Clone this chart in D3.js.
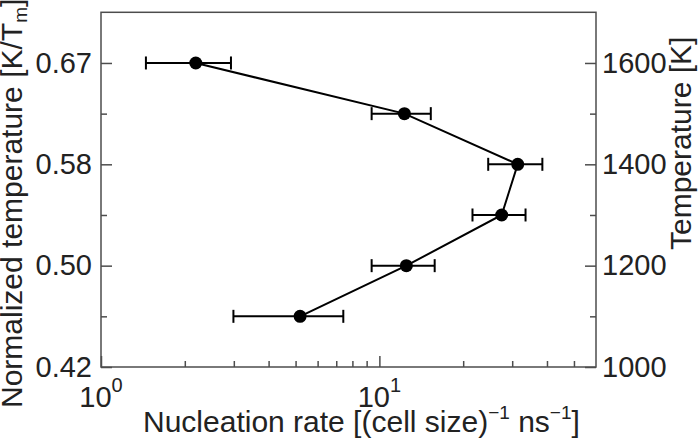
<!DOCTYPE html>
<html><head><meta charset="utf-8">
<script src="https://cdn.jsdelivr.net/npm/d3@7"></script>
<style>body{margin:0;background:#fff}svg{display:block}text{font-family:"Liberation Sans",Arial,sans-serif}</style>
</head><body><svg id="c" width="700" height="442"></svg>
<script>
const temperatures = [1600, 1500, 1400, 1300, 1200, 1100];
const rates      = [2.19, 12.3, 31.4, 27.5, 12.5, 5.19];
const rateLow    = [1.45, 9.38, 24.6, 21.6, 9.38, 2.99];
const rateHigh   = [2.93, 15.3, 38.5, 33.5, 15.8, 7.42];
const tempTicks  = [1000, 1200, 1400, 1600];
const tempMinor  = [1100, 1300, 1500];
const Tm = 2400;
const xMajor = [1, 10];
const xMinor = [2,3,4,5,6,7,8,9,20,30,40,50];

const svg = d3.select("#c");
const L=101, R=596, T=12.3, B=367;
const x = d3.scaleLog().domain([1,60]).range([L,R]);
const yT = d3.scaleLinear().domain([1000,1700]).range([B,T]);
const yN = d3.scaleLinear().domain([1000/Tm,1700/Tm]).range([B,T]);
const axisCol="#4d4d4d", txtCol="#222";
const tickFont="29px", titleFont="30px";

svg.append("rect").attr("x",L).attr("y",T).attr("width",R-L).attr("height",B-T)
  .attr("fill","none").attr("stroke",axisCol).attr("stroke-width",1.5);

function style(g){ g.select(".domain").remove(); g.selectAll("line").attr("stroke",axisCol).attr("stroke-width",1.5);
  g.selectAll("text").attr("fill",txtCol).style("font-size",tickFont); }

svg.append("g").attr("transform",`translate(${L},0)`)
  .call(d3.axisLeft(yN).tickValues(tempTicks.map(t=>t/Tm)).tickFormat(d3.format(".2f")).tickSizeInner(-11).tickPadding(9))
  .call(style);
svg.append("g").attr("transform",`translate(${L},0)`)
  .call(d3.axisLeft(yN).tickValues(tempMinor.map(t=>t/Tm)).tickFormat("").tickSizeInner(-6))
  .call(style);
svg.append("g").attr("transform",`translate(${R},0)`)
  .call(d3.axisRight(yT).tickValues(tempTicks).tickFormat(d3.format("d")).tickSizeInner(-11).tickPadding(6))
  .call(style);
svg.append("g").attr("transform",`translate(${R},0)`)
  .call(d3.axisRight(yT).tickValues(tempMinor).tickFormat("").tickSizeInner(-6))
  .call(style);
svg.append("g").attr("transform",`translate(0,${B})`)
  .call(d3.axisBottom(x).tickValues(xMajor).tickFormat("").tickSizeInner(-11))
  .call(style);
svg.append("g").attr("transform",`translate(0,${B})`)
  .call(d3.axisBottom(x).tickValues(xMinor).tickFormat("").tickSizeInner(-6))
  .call(style);
xMajor.forEach(v=>{
  const t = svg.append("text").attr("x",x(v)).attr("y",406.5).attr("text-anchor","middle")
    .attr("fill",txtCol).style("font-size",tickFont);
  t.append("tspan").text("10");
  t.append("tspan").attr("dy",-15).style("font-size","20px").text(Math.round(Math.log10(v)));
});

const xt = svg.append("text").attr("x",143).attr("y",432).attr("fill",txtCol).style("font-size",titleFont);
xt.append("tspan").text("Nucleation rate [(cell size)");
xt.append("tspan").attr("dy",-13).style("font-size","19px").text("\u22121");
xt.append("tspan").attr("dy",13).text(" ns");
xt.append("tspan").attr("dy",-13).style("font-size","19px").text("\u22121");
xt.append("tspan").attr("dy",13).text("]");

const yl = svg.append("text").attr("transform","translate(22,408) rotate(-90)").attr("fill",txtCol).style("font-size",titleFont);
yl.append("tspan").text("Normalized temperature [K/T");
yl.append("tspan").attr("dy",5).style("font-size","19px").text("m");
yl.append("tspan").attr("dy",-5).text("]");

svg.append("text").attr("transform","translate(691,250) rotate(-90)").attr("fill",txtCol).style("font-size",titleFont)
  .text("Temperature [K]");

const data = temperatures.map((t,i)=>({t, r:rates[i], lo:rateLow[i], hi:rateHigh[i]}));
const eb = svg.append("g").attr("stroke","#000").attr("stroke-width",2);
data.forEach(d=>{
  const yy=yT(d.t);
  eb.append("line").attr("x1",x(d.lo)).attr("x2",x(d.hi)).attr("y1",yy).attr("y2",yy);
  eb.append("line").attr("x1",x(d.lo)).attr("x2",x(d.lo)).attr("y1",yy-6.5).attr("y2",yy+6.5);
  eb.append("line").attr("x1",x(d.hi)).attr("x2",x(d.hi)).attr("y1",yy-6.5).attr("y2",yy+6.5);
});
svg.append("path").datum(data).attr("fill","none").attr("stroke","#000").attr("stroke-width",2)
  .attr("d",d3.line().x(d=>x(d.r)).y(d=>yT(d.t)));
svg.append("g").selectAll("circle").data(data).join("circle")
  .attr("cx",d=>x(d.r)).attr("cy",d=>yT(d.t)).attr("r",6.5).attr("fill","#000");
</script></body></html>
